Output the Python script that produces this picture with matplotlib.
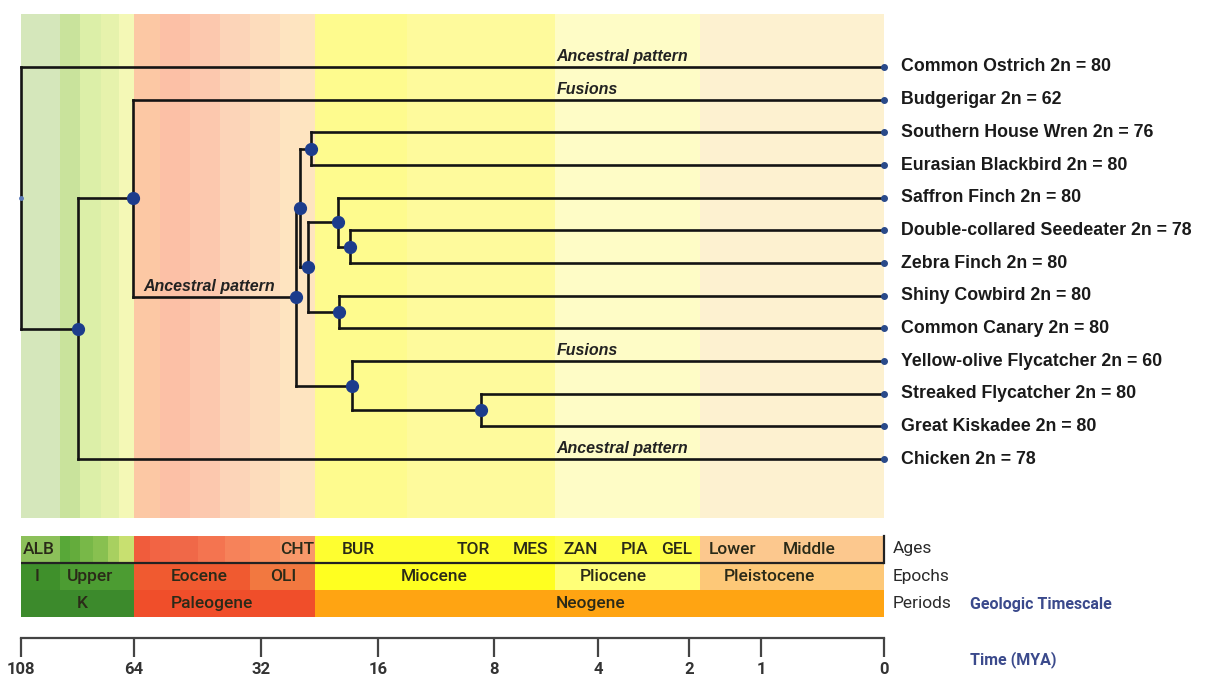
import numpy as np
import matplotlib.pyplot as plt

# time axis breakpoints of the (non linear) geologic scale
tick_mya = np.array([108, 64, 32, 16, 8, 4, 2, 1, 0])
tick_pos = np.array([21, 134, 261, 378, 494, 598, 689, 761, 884])


def fwd(t):
    return np.interp(-np.asarray(t, float), -tick_mya, tick_pos)


def inv(p):
    return -np.interp(np.asarray(p, float), tick_pos, -tick_mya)


# leaves (top to bottom)
leaf_names = ["Common Ostrich", "Budgerigar", "Southern House Wren", "Eurasian Blackbird",
              "Saffron Finch", "Double-collared Seedeater", "Zebra Finch", "Shiny Cowbird",
              "Common Canary", "Yellow-olive Flycatcher", "Streaked Flycatcher",
              "Great Kiskadee", "Chicken"]
diploid_2n = [80, 62, 76, 80, 80, 78, 80, 80, 80, 60, 80, 80, 78]

# internal nodes: name -> (age MYA, child 1, child 2)
nodes = {
    "root": (108.0, "Common Ostrich", "n1"),
    "n1": (86.0, "n2", "Chicken"),
    "n2": (64.5, "Budgerigar", "n3"),
    "n3": (27.2, "n4", "n10"),
    "n4": (26.7, "n5", "n6"),
    "n5": (25.2, "Southern House Wren", "Eurasian Blackbird"),
    "n6": (25.6, "n7", "n9"),
    "n7": (21.5, "Saffron Finch", "n8"),
    "n8": (19.8, "Double-collared Seedeater", "Zebra Finch"),
    "n9": (21.3, "Shiny Cowbird", "Common Canary"),
    "n10": (19.6, "Yellow-olive Flycatcher", "n11"),
    "n11": (8.9, "Streaked Flycatcher", "Great Kiskadee"),
}

# branch notes: (text, branch end, x MYA)
notes = [("Ancestral pattern", "Common Ostrich", 5.6),
         ("Fusions", "Budgerigar", 5.6),
         ("Ancestral pattern", "n3", 61.7),
         ("Fusions", "Yellow-olive Flycatcher", 5.6),
         ("Ancestral pattern", "Chicken", 5.6)]

# background bands (MYA)
bg_edges = [108, 93, 85, 77, 70, 64, 57.4, 49.9, 42.3, 34.8, 29.4, 24.6, 14, 5.65, 1.85, 0]
bg_colors = ["#d5e7bb", "#c9e39c", "#dcefa8", "#e6f2ac", "#f4f8b6", "#fcc8a4", "#fcc0a6",
             "#fcc8ae", "#fcd4b8", "#fddcbc", "#fee4c0", "#fefb8e", "#fefa9c", "#fefcc6",
             "#fdf1d0"]

# geologic timescale rows
age_edges = [108, 93, 89, 85, 80, 74, 70, 64, 60, 55, 48, 41, 34.8, 29.4, 24.6, 5.65, 1.85, 0]
age_colors = ["#8cc05a", "#58a838", "#64ac3c", "#78b848", "#88c050", "#a8d060", "#c8e070",
              "#f05c3c", "#f26444", "#f06848", "#f47450", "#f6825a", "#f88c5c", "#f8986a",
              "#fefe30", "#fefe48", "#fcc88e"]
age_labels = ["ALB", "CHT", "BUR", "TOR", "MES", "ZAN", "PIA", "GEL", "Lower", "Middle"]
age_label_end = [107.2, 24.7, 16.4, 8.3, 5.9, 4.0, 2.9, 1.96, 1.06, 0.39]

epoch_edges = [108, 93, 64, 34.8, 24.6, 5.65, 1.85, 0]
epoch_colors = ["#3f902b", "#4c9c32", "#f05a30", "#f27840", "#ffff20", "#ffff78", "#fdc878"]
epoch_labels = ["I", "Upper", "Eocene", "OLI", "Miocene", "Pliocene", "Pleistocene"]
epoch_label_x = [101.8, 81.1, 47.6, 29.0, 12.1, 3.67, 0.93]

period_edges = [108, 64, 24.6, 0]
period_colors = ["#3c8a2c", "#f04e2a", "#ffa412"]
period_labels = ["K", "Paleogene", "Neogene"]
period_label_x = [84.2, 44.3, 4.3]

# ---------------------------------------------------------------
W, H = 1208, 680
fig = plt.figure(figsize=(W / 100, H / 100), dpi=100)


def box(x0, y0, x1, y1):
    return [x0 / W, 1 - y1 / H, (x1 - x0) / W, (y1 - y0) / H]


ax = fig.add_axes(box(21, 14, 884, 518))
ax_g = fig.add_axes(box(21, 536, 884, 617))
ax_t = fig.add_axes(box(21, 636, 884, 638))
for a in (ax, ax_g, ax_t):
    a.set_xscale('function', functions=(fwd, inv))
    a.set_xlim(0, 108)
    for s in a.spines.values():
        s.set_visible(False)
    a.set_yticks([])

# --- tree ---
ypos = {n: i for i, n in enumerate(leaf_names)}
xpos = {n: 0.0 for n in leaf_names}


def place(n):
    if n in ypos:
        return ypos[n]
    age, c1, c2 = nodes[n]
    y = (place(c1) + place(c2)) / 2
    ypos[n] = y
    xpos[n] = age
    return y


place("root")
ax.set_ylim(13.8, -1.62)
ax.set_xticks([])

for i in range(len(bg_colors)):
    ax.axvspan(bg_edges[i], bg_edges[i + 1], color=bg_colors[i], lw=0, zorder=0)

lc = "#141414"
for n, (age, c1, c2) in nodes.items():
    ax.plot([age, age], [ypos[c1], ypos[c2]], color=lc, lw=1.9, clip_on=False,
            solid_capstyle='projecting', zorder=2)
    for c in (c1, c2):
        ax.plot([age, xpos[c]], [ypos[c], ypos[c]], color=lc, lw=1.9, clip_on=False,
                solid_capstyle='projecting', zorder=2)

for n, (age, c1, c2) in nodes.items():
    if n == "root":
        ax.plot(age, ypos[n], 'o', color="#5a7ab8", ms=2.5, clip_on=False, zorder=3)
    else:
        ax.plot(age, ypos[n], 'o', color="#1c3c8c", ms=8.5, clip_on=False, zorder=3)

for i, name in enumerate(leaf_names):
    ax.plot(0, i, 'o', color="#2a4a8a", ms=4, clip_on=False, zorder=3)
    ax.annotate(f"{name} 2n = {diploid_2n[i]}", (0, i), xytext=(12, 0),
                textcoords='offset points', va='center', ha='left',
                family='Liberation Sans', fontweight='bold', fontsize=12.8,
                color='#1a1a1a', annotation_clip=False)

for text, target, x in notes:
    ax.annotate(text, (x, ypos[target]), xytext=(0, 2.2), textcoords='offset points',
                va='bottom', ha='left', family='Liberation Sans', fontweight='bold',
                fontstyle='italic', fontsize=11.5, color='#222222')

# --- geologic timescale ---
ax_g.set_ylim(3, 0)
ax_g.set_xticks([])
rows = [(age_edges, age_colors), (epoch_edges, epoch_colors), (period_edges, period_colors)]
for r, (edges, cols) in enumerate(rows):
    for i in range(len(cols)):
        ax_g.axvspan(edges[i], edges[i + 1], ymin=1 - (r + 1) / 3, ymax=1 - r / 3,
                     color=cols[i], lw=0)

tc = "#2a2a18"
tf = dict(family='Roboto', fontweight='medium', fontsize=12.5, color=tc, va='center')
for lab, x in zip(age_labels, age_label_end):
    ax_g.text(x, 0.5, lab, ha='left' if lab == "ALB" else 'right', **tf)
for lab, x in zip(epoch_labels, epoch_label_x):
    ax_g.text(x, 1.5, lab, ha='center', **tf)
for lab, x in zip(period_labels, period_label_x):
    ax_g.text(x, 2.5, lab, ha='center', **tf)

ax_g.axhline(1, color='#222222', lw=1.6)
ax_g.plot([0, 0], [0, 1], color='#222222', lw=1.6, clip_on=False)

for lab, yy in zip(["Ages", "Epochs", "Periods"], [549, 576, 603]):
    fig.text(893 / W, 1 - yy / H, lab, ha='left', va='center', family='Roboto',
             fontsize=12.5, color='#2a2a2a')
fig.text(970 / W, 1 - 604 / H, "Geologic Timescale", ha='left', va='center',
         family='Roboto', fontweight='bold', fontsize=11.5, color='#3b4a8c')
fig.text(970 / W, 1 - 660 / H, "Time (MYA)", ha='left', va='center',
         family='Roboto', fontweight='bold', fontsize=11.5, color='#3b4a8c')

# --- time axis ---
ax_t.set_ylim(0, 1)
ax_t.spines['bottom'].set_visible(True)
ax_t.spines['bottom'].set_color('#444444')
ax_t.spines['bottom'].set_linewidth(1.6)
ax_t.set_xticks(tick_mya)
ax_t.set_xticklabels([str(t) for t in tick_mya], family='Roboto', fontweight='bold',
                     fontsize=12, color='#333333')
ax_t.tick_params(axis='x', direction='out', length=14, width=1.6, color='#444444', pad=3)
ax_t.patch.set_visible(False)

fig.savefig("out.png", dpi=100)
